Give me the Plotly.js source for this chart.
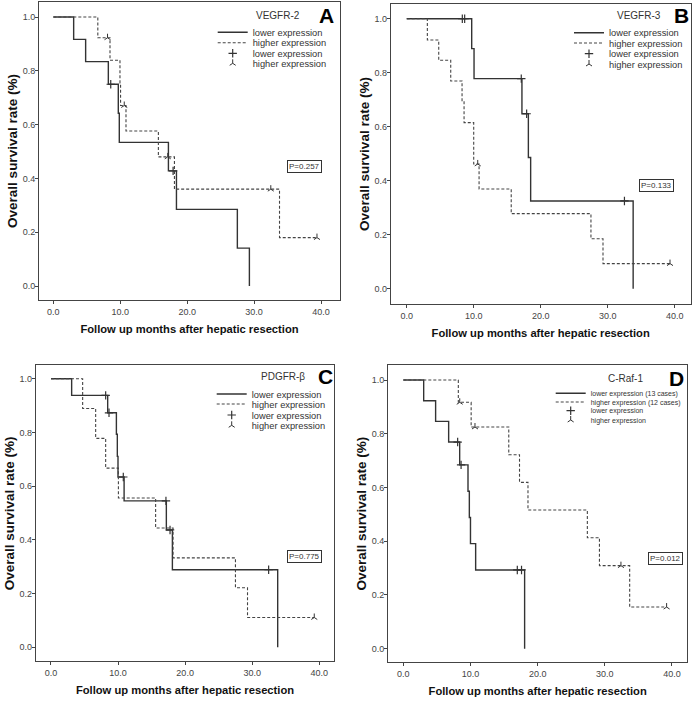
<!DOCTYPE html>
<html><head><meta charset="utf-8">
<script src="https://cdn.plot.ly/plotly-3.0.1.min.js"></script>
<style>html,body{margin:0;padding:0;background:#fff;}#chart{width:696px;height:704px;}</style>
</head><body><div id="chart"></div>
<script>
// ---------- DATA ----------
const panelNames = ['VEGFR-2', 'VEGFR-3', 'PDGFR-β', 'C-Raf-1'];
const panelLetters = ['A', 'B', 'C', 'D'];
const pValues = ['P=0.257', 'P=0.133', 'P=0.775', 'P=0.012'];
const xTicks = [0, 10, 20, 30, 40];
const xTickText = ['0.0', '10.0', '20.0', '30.0', '40.0'];
const yTicks = [0, 0.2, 0.4, 0.6, 0.8, 1.0];
const yTickText = ['0.0', '0.2', '0.4', '0.6', '0.8', '1.0'];
const legendLabelsStd = ['lower expression', 'higher expression', 'lower expression', 'higher expression'];
const legendLabelsD = ['lower expression (13 cases)', 'higher expression (12 cases)', 'lower expression', 'higher expression'];

// A: VEGFR-2
const vegfr2LowerTime = [0, 3.04, 4.83, 8.22, 9.71, 9.86, 17.2, 18.4, 27.5, 29.3];
const vegfr2LowerSurv = [1, 0.917, 0.834, 0.75, 0.642, 0.534, 0.428, 0.285, 0.141, 0];
const vegfr2LowerCensTime = [8.58, 17.9];
const vegfr2LowerCensSurv = [0.75, 0.428];
const vegfr2HigherTime = [0, 6.65, 8.47, 9.96, 10.05, 10.86, 15.7, 18.1, 33.8, 39.4];
const vegfr2HigherSurv = [1, 0.923, 0.839, 0.755, 0.671, 0.576, 0.48, 0.36, 0.18, 0.18];
const vegfr2HigherCensTime = [8.1, 10.6, 17.1, 32.5, 39.4];
const vegfr2HigherCensSurv = [0.923, 0.671, 0.48, 0.36, 0.18];

// B: VEGFR-3
const vegfr3LowerTime = [0, 9.7, 10.05, 17.2, 18.16, 18.5, 33.8];
const vegfr3LowerSurv = [1, 0.889, 0.778, 0.648, 0.486, 0.325, 0];
const vegfr3LowerCensTime = [8.3, 8.65, 17.1, 17.9, 32.5];
const vegfr3LowerCensSurv = [1, 1, 0.778, 0.648, 0.325];
const vegfr3HigherTime = [0, 3.08, 4.78, 6.57, 8.26, 8.56, 10.0, 10.8, 15.6, 27.5, 29.3, 39.3];
const vegfr3HigherSurv = [1, 0.921, 0.846, 0.769, 0.692, 0.615, 0.462, 0.369, 0.278, 0.185, 0.093, 0.093];
const vegfr3HigherCensTime = [10.6, 39.3];
const vegfr3HigherCensSurv = [0.462, 0.093];

// C: PDGFR-beta
const pdgfrLowerTime = [0, 3.08, 8.45, 9.75, 9.89, 9.99, 10.9, 17.2, 18.1, 33.8];
const pdgfrLowerSurv = [1, 0.938, 0.873, 0.793, 0.711, 0.634, 0.545, 0.437, 0.289, 0];
const pdgfrLowerCensTime = [8.15, 8.65, 10.78, 17.14, 17.75, 32.45];
const pdgfrLowerCensSurv = [0.938, 0.873, 0.634, 0.545, 0.437, 0.289];
const pdgfrHigherTime = [0, 4.72, 6.66, 8.15, 10.05, 15.6, 18.2, 27.5, 29.3, 39.25];
const pdgfrHigherSurv = [1, 0.889, 0.778, 0.667, 0.556, 0.444, 0.333, 0.222, 0.111, 0.111];
const pdgfrHigherCensTime = [39.25];
const pdgfrHigherCensSurv = [0.111];

// D: C-Raf-1
const craf1LowerTime = [0, 3.03, 4.81, 6.75, 8.39, 9.63, 9.83, 10.0, 10.77, 18.06];
const craf1LowerSurv = [1, 0.923, 0.846, 0.769, 0.684, 0.586, 0.488, 0.391, 0.293, 0];
const craf1LowerCensTime = [8.09, 8.6, 16.97, 17.6];
const craf1LowerCensSurv = [0.769, 0.684, 0.293, 0.293];
const craf1HigherTime = [0, 8.19, 10.1, 15.7, 17.3, 18.56, 27.4, 29.2, 33.7, 39.2];
const craf1HigherSurv = [1, 0.917, 0.825, 0.722, 0.619, 0.516, 0.413, 0.309, 0.155, 0.155];
const craf1HigherCensTime = [8.4, 10.67, 32.4, 39.2];
const craf1HigherCensSurv = [0.917, 0.825, 0.309, 0.155];

// ---------- LAYOUT HELPERS ----------
const W = 696, H = 704;
const ARIAL = '"Liberation Sans", Arial, sans-serif';
const INK = '#333';

// pixel frames [left, right, top, bottom] and axis ranges
const panels = [
  {frame: [39, 340, 2, 300], xr: [-2.14, 42.84], yr: [-0.052, 1.0558],
   lower: [vegfr2LowerTime, vegfr2LowerSurv, vegfr2LowerCensTime, vegfr2LowerCensSurv],
   higher: [vegfr2HigherTime, vegfr2HigherSurv, vegfr2HigherCensTime, vegfr2HigherCensSurv],
   labels: legendLabelsStd, legX: 252.7, legY: [32.3, 42.7, 53.3, 63.3], legFont: 9.3,
   title: [277.7, 15], letter: [326, 15], p: [37.6, 0.446]},
  {frame: [390.7, 690.7, 4, 304], xr: [-2.39, 42.39], yr: [-0.0567, 1.0544],
   lower: [vegfr3LowerTime, vegfr3LowerSurv, vegfr3LowerCensTime, vegfr3LowerCensSurv],
   higher: [vegfr3HigherTime, vegfr3HigherSurv, vegfr3HigherCensTime, vegfr3HigherCensSurv],
   labels: legendLabelsStd, legX: 609, legY: [32.7, 43, 53.7, 64], legFont: 9.3,
   title: [638.7, 15.7], letter: [681.3, 15.7], p: [37.3, 0.382]},
  {frame: [35.7, 334.3, 365.3, 661.3], xr: [-2.28, 42.24], yr: [-0.0521, 1.0499],
   lower: [pdgfrLowerTime, pdgfrLowerSurv, pdgfrLowerCensTime, pdgfrLowerCensSurv],
   higher: [pdgfrHigherTime, pdgfrHigherSurv, pdgfrHigherCensTime, pdgfrHigherCensSurv],
   labels: legendLabelsStd, legX: 251.7, legY: [394, 404, 415, 425.3], legFont: 9.3,
   title: [283.3, 376.3], letter: [325, 376.3], p: [37.8, 0.338]},
  {frame: [388, 687.3, 365.3, 662], xr: [-2.28, 42.28], yr: [-0.0495, 1.0547],
   lower: [craf1LowerTime, craf1LowerSurv, craf1LowerCensTime, craf1LowerCensSurv],
   higher: [craf1HigherTime, craf1HigherSurv, craf1HigherCensTime, craf1HigherCensSurv],
   labels: legendLabelsD, legX: 590.7, legY: [393.3, 402, 410.7, 420], legFont: 7,
   title: [625.7, 378], letter: [676.3, 378], p: [39.1, 0.334]}
];

const traces = [];
const layout = {
  width: W, height: H,
  margin: {l: 0, r: 0, t: 0, b: 0},
  paper_bgcolor: '#fff', plot_bgcolor: '#fff',
  showlegend: true,
  annotations: [],
  font: {family: ARIAL, color: INK}
};

panels.forEach((pn, i) => {
  const sfx = i === 0 ? '' : String(i + 1);
  const xa = 'x' + sfx, ya = 'y' + sfx;
  const [l, r, t, b] = pn.frame;
  const axBase = {
    showline: true, mirror: true, linecolor: '#444', linewidth: 1,
    ticks: 'outside', ticklen: 3, tickcolor: '#444', tickwidth: 1,
    showgrid: false, zeroline: false, fixedrange: true,
    tickfont: {family: ARIAL, size: 9, color: '#444'}
  };
  layout['xaxis' + sfx] = Object.assign({}, axBase, {
    domain: [l / W, r / W], range: pn.xr, anchor: ya,
    tickvals: xTicks, ticktext: xTickText,
    title: {text: 'Follow up months after hepatic resection', standoff: 9,
            font: {family: ARIAL, size: 11.2, color: '#111', weight: 'bold'}}
  });
  layout['yaxis' + sfx] = Object.assign({}, axBase, {
    domain: [1 - b / H, 1 - t / H], range: pn.yr, anchor: xa,
    tickvals: yTicks, ticktext: yTickText, ticklabelstandoff: -2,
    title: {text: 'Overall survival rate (%)', standoff: 1,
            font: {family: ARIAL, size: 13.5, color: '#111', weight: 'bold'}}
  });

  const legIds = [0, 1, 2, 3].map(k => {
    const n = i * 4 + k + 1;
    return n === 1 ? 'legend' : 'legend' + n;
  });
  legIds.forEach((id, k) => {
    layout[id] = {
      x: (pn.legX - 40) / W, xanchor: 'left',
      y: 1 - pn.legY[k] / H, yanchor: 'middle',
      bgcolor: 'rgba(0,0,0,0)', borderwidth: 0,
      font: {family: ARIAL, size: pn.legFont, color: INK},
      itemclick: false, itemdoubleclick: false
    };
  });

  traces.push({
    type: 'scatter', mode: 'lines', xaxis: xa, yaxis: ya,
    x: pn.lower[0], y: pn.lower[1], name: pn.labels[0], legend: legIds[0],
    line: {shape: 'hv', color: INK, width: 1.4}
  });
  traces.push({
    type: 'scatter', mode: 'lines', xaxis: xa, yaxis: ya,
    x: pn.higher[0], y: pn.higher[1], name: pn.labels[1], legend: legIds[1],
    line: {shape: 'hv', color: '#444', width: 1.1, dash: '3px,2px'}
  });
  traces.push({
    type: 'scatter', mode: 'markers', xaxis: xa, yaxis: ya,
    x: pn.lower[2], y: pn.lower[3], name: pn.labels[2], legend: legIds[2],
    marker: {symbol: 'cross-thin', size: 6, line: {color: INK, width: 1.2}, color: INK},
    cliponaxis: false
  });
  traces.push({
    type: 'scatter', mode: 'markers', xaxis: xa, yaxis: ya,
    x: pn.higher[2], y: pn.higher[3], name: pn.labels[3], legend: legIds[3],
    marker: {symbol: 'y-up', size: 5, line: {color: INK, width: 1}, color: INK},
    cliponaxis: false
  });

  layout.annotations.push({
    xref: 'paper', yref: 'paper', x: pn.title[0] / W, y: 1 - pn.title[1] / H,
    xanchor: 'center', yanchor: 'middle', showarrow: false, text: panelNames[i],
    font: {family: ARIAL, size: 10, color: INK}
  });
  layout.annotations.push({
    xref: 'paper', yref: 'paper', x: pn.letter[0] / W, y: 1 - pn.letter[1] / H,
    xanchor: 'center', yanchor: 'middle', showarrow: false, text: '<b>' + panelLetters[i] + '</b>',
    font: {family: ARIAL, size: 21, color: '#000'}
  });
  layout.annotations.push({
    xref: xa, yref: ya, x: pn.p[0], y: pn.p[1],
    xanchor: 'center', yanchor: 'middle', showarrow: false, text: pValues[i],
    font: {family: ARIAL, size: 8, color: INK},
    bordercolor: INK, borderwidth: 1, borderpad: 1, bgcolor: '#fff'
  });
});

Plotly.newPlot('chart', traces, layout, {staticPlot: true, displayModeBar: false});
</script>
</body></html>
